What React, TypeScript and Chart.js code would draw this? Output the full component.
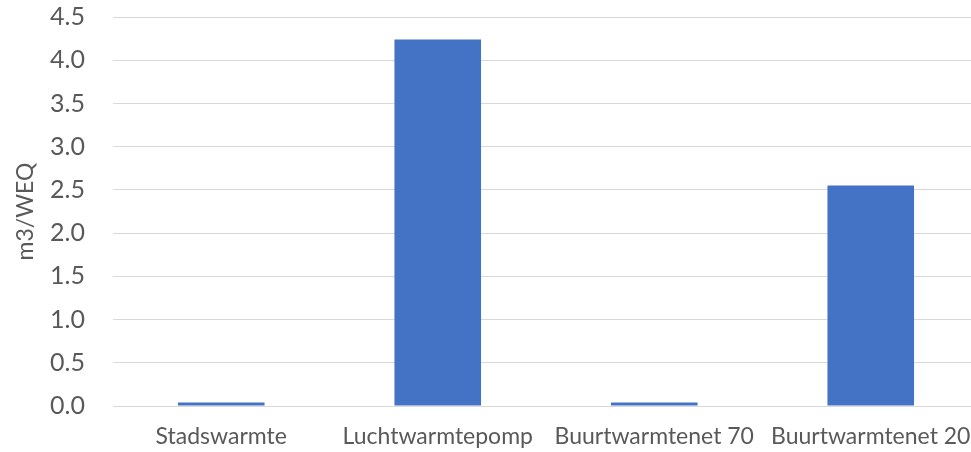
import React, { useEffect, useRef } from "react";
import { Chart, registerables } from "chart.js";

Chart.register(...registerables);

const categories = ["Stadswarmte", "Luchtwarmtepomp", "Buurtwarmtenet 70", "Buurtwarmtenet 20"];
const values = [0.04, 4.24, 0.04, 2.55];
const yTitle = "m3/WEQ";
const yMin = 0;
const yMax = 4.5;
const yStep = 0.5;

export default function App() {
  const ref = useRef<HTMLCanvasElement | null>(null);
  useEffect(() => {
    if (!ref.current) return;
    const chart = new Chart(ref.current, {
      type: "bar",
      data: {
        labels: categories,
        datasets: [
          {
            data: values,
            backgroundColor: "#4472C4",
            borderWidth: 0,
            categoryPercentage: 1,
            barPercentage: 0.4,
          },
        ],
      },
      options: {
        responsive: false,
        animation: false,
        layout: { padding: { top: 0, right: 11, bottom: 0, left: 12 } },
        plugins: { legend: { display: false }, tooltip: { enabled: false } },
        scales: {
          x: {
            grid: { display: false, drawTicks: false },
            border: { display: true, color: "#d9d9d9", width: 1 },
            afterFit: (s: any) => {
              s.height = 46;
            },
            ticks: {
              color: "#595959",
              font: { family: "Lato", size: 23 },
              padding: 17,
              maxRotation: 0,
              autoSkip: false,
            },
          },
          y: {
            min: yMin,
            max: yMax,
            grid: { color: "#d9d9d9", drawTicks: false },
            border: { display: false },
            afterFit: (s: any) => {
              s.width = 101;
            },
            ticks: {
              stepSize: yStep,
              color: "#595959",
              font: { family: "Lato", size: 25 },
              padding: 28,
              callback: (v: any) => Number(v).toFixed(1),
            },
            title: {
              display: true,
              text: yTitle,
              color: "#595959",
              font: { family: "Lato", size: 23 },
              padding: 0,
            },
          },
        },
      },
    });
    return () => chart.destroy();
  }, []);
  return (
    <div style={{ position: "absolute", left: 0, top: 0, width: 971, height: 452, overflow: "hidden", background: "#fff" }}>
      <canvas
        ref={ref}
        width={990}
        height={478}
        style={{ position: "absolute", left: 0, top: -26, width: 990, height: 478 }}
      />
    </div>
  );
}
